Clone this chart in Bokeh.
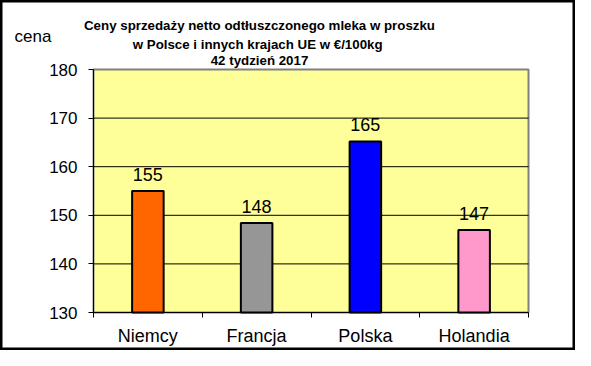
from bokeh.plotting import figure
from bokeh.models import ColumnDataSource, FixedTicker, Range1d, Label, LabelSet
from bokeh.core.properties import value
from bokeh.embed import file_html
from bokeh.resources import INLINE

categories = ["Niemcy", "Francja", "Polska", "Holandia"]
values = [155.0, 148.4, 165.2, 147.0]
colors = ["#FF6600", "#969696", "#0000FF", "#FF99CC"]
y_ticks = [130, 140, 150, 160, 170, 180]
title_lines = ["Ceny sprzedaży netto odtłuszczonego mleka w proszku",
               "w Polsce i innych  krajach UE w €/100kg",
               "42 tydzień 2017"]
y_label = "cena"

FONT = "Liberation Sans"
W, H = 575, 350
# plot-area box in canvas pixels (left, right, top, bottom)
PL, PR, PT, PB = 93, 528, 69, 312

n = len(categories)
ymin, ymax = y_ticks[0], y_ticks[-1]
ppx = (PR - PL) / n
ppy = (PB - PT) / (ymax - ymin)
x_range = Range1d(-PL / ppx, n + (W - PR) / ppx)
y_range = Range1d(ymin - (H - PB) / ppy, ymax + PT / ppy)

src = ColumnDataSource(dict(
    x=[i + 0.5 for i in range(n)],
    top=values,
    color=colors,
    label=[str(round(v)) for v in values],
))

p = figure(width=W, height=H, output_backend="svg", toolbar_location=None,
           x_range=x_range, y_range=y_range, min_border=0)
p.background_fill_color = "white"
p.border_fill_color = "white"
p.outline_line_color = "black"
p.outline_line_width = 4
p.xgrid.visible = False
p.ygrid.visible = False

# plot area
p.quad(left=0, right=n, bottom=ymin, top=ymax, fill_color="#FFFF99",
       line_color="#808080", line_width=2)
grid = y_ticks[1:-1]
p.segment(x0=[0] * len(grid), x1=[n] * len(grid), y0=grid, y1=grid,
          line_color="black", line_width=1)

p.vbar(x="x", top="top", bottom=ymin, width=0.29, fill_color="color",
       line_color="black", line_width=2, source=src)

p.add_layout(LabelSet(x="x", y="top", text="label", source=src, y_offset=10,
                      text_align="center", text_baseline="alphabetic",
                      text_font=value(FONT), text_font_size=value("18px"), text_color="black"))

# y axis
p.yaxis.fixed_location = 0
p.yaxis.bounds = (ymin, ymax)
p.yaxis.ticker = FixedTicker(ticks=y_ticks)
p.yaxis.axis_line_color = "black"
p.yaxis.major_tick_line_color = "black"
p.yaxis.major_tick_out = 5
p.yaxis.major_tick_in = 0
p.yaxis.minor_tick_line_color = None
p.yaxis.major_label_standoff = 11
p.yaxis.major_label_text_font = FONT
p.yaxis.major_label_text_font_size = "17px"
p.yaxis.major_label_text_color = "black"

# x axis
p.xaxis.fixed_location = ymin
p.xaxis.bounds = (0, n)
p.xaxis.ticker = FixedTicker(ticks=[i + 0.5 for i in range(n)],
                             minor_ticks=list(range(n + 1)))
p.xaxis.major_label_overrides = {i + 0.5: c for i, c in enumerate(categories)}
p.xaxis.axis_line_color = "black"
p.xaxis.major_tick_line_color = None
p.xaxis.major_tick_out = 0
p.xaxis.major_tick_in = 0
p.xaxis.minor_tick_line_color = "black"
p.xaxis.minor_tick_out = 5
p.xaxis.minor_tick_in = 0
p.xaxis.major_label_standoff = 8
p.xaxis.major_label_text_font = FONT
p.xaxis.major_label_text_font_size = "18px"
p.xaxis.major_label_text_color = "black"

# texts (screen units: x from left, y up from bottom of the frame = canvas)
baselines = [25.3, 43.5, 60]
for line, yb in zip(title_lines, baselines):
    p.add_layout(Label(x=259, y=H - yb, x_units="screen", y_units="screen",
                       text=line, text_align="center", text_baseline="alphabetic",
                       text_font=FONT, text_font_style="bold", text_font_size="13.3px",
                       text_color="black"))

p.add_layout(Label(x=14, y=H - 36.3, x_units="screen", y_units="screen",
                   text=y_label, text_align="left", text_baseline="alphabetic",
                   text_font=FONT, text_font_size="17px", text_color="black"))

open("out.html", "w").write(file_html(p, INLINE))
